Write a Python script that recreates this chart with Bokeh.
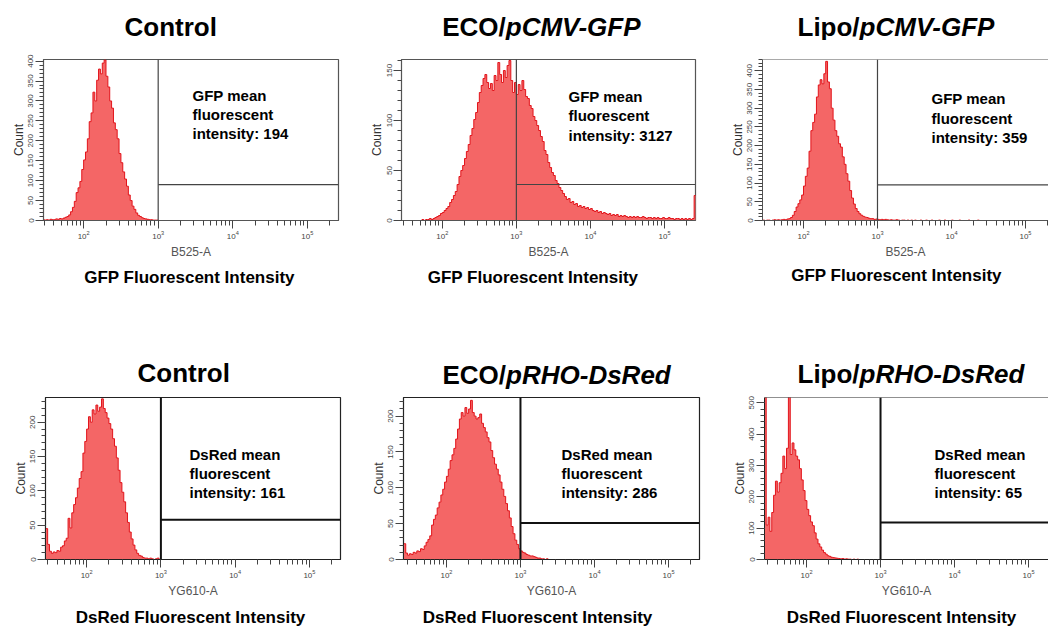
import numpy as np
from bokeh.plotting import figure
from bokeh.models import (Range1d, Span, Label, FixedTicker, SingleIntervalTicker,
                          ColumnDataSource)
from bokeh.layouts import row, column
from bokeh.embed import file_html
from bokeh.resources import INLINE

# ---------------- data ----------------
BIN_WIDTH = 0.025          # histogram bin width in log10 units
titles_plain = ["Control", "ECO/", "Lipo/", "Control", "ECO/", "Lipo/"]
titles_italic = ["", "pCMV-GFP", "pCMV-GFP", "", "pRHO-DsRed", "pRHO-DsRed"]
channels = ["B525-A", "B525-A", "B525-A", "YG610-A", "YG610-A", "YG610-A"]
xlabels = ["GFP Fluorescent Intensity"] * 3 + ["DsRed Fluorescent Intensity"] * 3
reporters = ["GFP", "GFP", "GFP", "DsRed", "DsRed", "DsRed"]
mfi_values = [194, 3127, 359, 161, 286, 65]
gate_counts = [90, 36, 95, 58, 51, 118]
gate_threshold = 1000
y_max = [404, 161, 430, 236, 226, 517]
y_tick_step = [50, 50, 50, 50, 50, 100]
bin_start = [1.45, 1.70, 1.45, 1.45, 1.425, 1.43]   # log10 of first bin edge

ctrl_gfp_counts = [2, 1, 2, 1, 3, 2, 2, 4, 3, 5, 4, 6, 8, 10, 14, 22, 33, 48, 70, 82,
                   98, 128, 152, 172, 205, 248, 270, 322, 300, 352, 380, 368, 395, 403, 362, 335, 300, 282, 245, 228,
                   205, 168, 145, 122, 104, 86, 64, 50, 36, 28, 19, 13, 10, 7, 5, 4, 3, 2, 2, 1,
                   1, 1]
eco_gfp_counts = [0, 1, 0, 1, 1, 2, 1, 2, 3, 4, 5, 7, 8, 10, 12, 14, 18, 21, 25, 29,
                  36, 44, 50, 55, 62, 69, 76, 85, 92, 101, 108, 118, 128, 135, 142, 146, 138, 132, 137, 130,
                  145, 140, 158, 146, 138, 150, 143, 155, 160, 140, 128, 138, 126, 136, 130, 140, 131, 124, 122, 115,
                  112, 104, 100, 95, 90, 84, 79, 70, 66, 58, 53, 48, 45, 40, 37, 33, 30, 27, 24, 21,
                  22, 18, 19, 16, 17, 14, 15, 13, 14, 12, 13, 11, 12, 10, 9, 10, 8, 9, 7, 8,
                  7, 6, 7, 5, 6, 5, 6, 4, 5, 4, 5, 4, 3, 4, 3, 4, 3, 4, 3, 3,
                  4, 3, 2, 3, 3, 2, 3, 2, 3, 2, 2, 3, 2, 2, 3, 2, 2, 1, 2, 2,
                  1, 2, 1, 2, 1, 2, 1, 2, 25]
lipo_gfp_counts = [1, 0, 1, 1, 0, 1, 2, 1, 2, 1, 2, 3, 2, 4, 5, 8, 14, 24, 36, 45,
                   55, 68, 92, 118, 140, 185, 240, 262, 284, 330, 362, 376, 365, 392, 425, 370, 352, 300, 268, 240,
                   225, 205, 196, 170, 150, 125, 105, 80, 60, 44, 32, 24, 18, 14, 11, 9, 8, 6, 5, 5,
                   3, 4, 3, 2, 3, 2, 3, 2, 1, 2, 1, 1, 2, 1, 0, 1, 1, 0, 1, 0,
                   1, 0, 1, 0, 0, 1, 0, 0, 1, 0, 0, 1, 0, 0, 0, 1, 0, 0, 1, 0,
                   0, 0, 1, 0, 0, 0, 1, 0, 0, 0, 0, 1, 0, 0, 0, 0, 1, 0, 0, 0]
ctrl_dsred_counts = [45, 22, 12, 9, 11, 10, 13, 12, 18, 20, 27, 31, 60, 46, 68, 80, 90, 104, 118, 128,
                     155, 172, 190, 208, 200, 218, 212, 225, 216, 222, 234, 220, 214, 206, 198, 190, 176, 165, 148, 130,
                     112, 98, 84, 68, 54, 40, 30, 21, 14, 9, 6, 5, 3, 2, 2, 1, 2, 1, 0, 1,
                     2, 0]
eco_dsred_counts = [22, 9, 6, 8, 7, 10, 9, 12, 11, 15, 14, 19, 24, 28, 33, 48, 56, 62, 72, 80,
                    90, 98, 108, 116, 126, 138, 146, 155, 168, 182, 196, 205, 200, 212, 204, 210, 222, 205, 200, 196,
                    198, 203, 190, 184, 178, 170, 164, 152, 142, 133, 126, 118, 108, 98, 88, 78, 68, 58, 46, 36,
                    27, 21, 15, 12, 10, 9, 7, 6, 5, 5, 4, 3, 2, 2, 1, 1, 0, 1]
lipo_dsred_counts = [560, 110, 135, 90, 150, 205, 250, 215, 245, 275, 330, 290, 355, 530, 335, 372, 350, 330, 318, 290,
                     254, 220, 188, 160, 140, 120, 108, 85, 65, 50, 40, 30, 22, 17, 12, 10, 7, 6, 5, 4,
                     3, 2, 3, 1, 2, 1, 1, 0, 1, 0, 1]
all_counts = [ctrl_gfp_counts, eco_gfp_counts, lipo_gfp_counts,
              ctrl_dsred_counts, eco_dsred_counts, lipo_dsred_counts]

# ---------------- layout / styling (not data) ----------------
FILL = "#f46666"
EDGE = "#e2141b"
FONT = "Liberation Sans"
PAGE_W = 1048
layout = [
    # figure size, borders, x-range (log10), MFI text position (frame relative)
    dict(w=361, h=222, bl=43, br=23, bt=19, bb=40, xlo=1.4617, xhi=5.4185,
         txl=149, tys=[125, 106, 87], open=False, row=0),
    dict(w=361, h=222, bl=40, br=27, bt=19, bb=40, xlo=1.449, xhi=5.4185,
         txl=167, tys=[124, 105, 85], open=False, row=0),
    dict(w=326, h=222, bl=40, br=0, bt=17, bb=42, xlo=1.446, xhi=5.311,
         txl=169, tys=[121.7, 102.3, 83], open=True, row=0),
    dict(w=363, h=208, bl=45, br=23, bt=5, bb=40, xlo=1.446, xhi=5.4185,
         txl=144, tys=[105, 86, 67], open=False, row=1),
    dict(w=361, h=208, bl=40, br=25, bt=4, bb=40, xlo=1.42, xhi=5.4185,
         txl=158, tys=[105, 86, 67], open=False, row=1),
    dict(w=324, h=208, bl=40, br=0, bt=5, bb=40, xlo=1.432, xhi=5.27,
         txl=170, tys=[105, 86, 67], open=True, row=1),
]
TITLE_FS = 26
PLAIN_EM = {"ECO/": 2.445, "Lipo/": 2.389}
# title (left x, middle y from strip bottom), bold x-label (center x, middle y from strip bottom)
title_pos = [(124, 14), (441.7, 14), (797, 14), (137, 20), (442, 18), (797, 19)]
xlabel_pos = [(189, 115.3), (532.5, 115.3), (896, 117), (190, 9.5), (537, 9.5), (901, 9.5)]


def add_label(p, x, y, text, size, style="bold", align="left", baseline="middle", color="#000000"):
    p.add_layout(Label(x=x, y=y, x_units="screen", y_units="screen", text=text,
                       text_font=FONT, text_font_size=f"{size}px", text_font_style=style,
                       text_align=align, text_baseline=baseline, text_color=color))


def text_strip(height):
    s = figure(width=PAGE_W, height=height, x_range=Range1d(0, PAGE_W), y_range=Range1d(0, height),
               output_backend="svg", toolbar_location=None, min_border=0,
               x_axis_location=None, y_axis_location=None, title=None,
               background_fill_color="white", border_fill_color="white")
    s.outline_line_color = None
    s.xgrid.visible = False
    s.ygrid.visible = False
    return s


def add_title(s, k):
    x, y = title_pos[k]
    add_label(s, x, y, titles_plain[k], TITLE_FS)
    if titles_italic[k]:
        off = PLAIN_EM[titles_plain[k]] * TITLE_FS
        add_label(s, x + off, y, titles_italic[k], TITLE_FS, style="bold italic")


def add_xlabel(s, k):
    x, y = xlabel_pos[k]
    add_label(s, x, y, xlabels[k], 17, align="center")


def make_panel(k):
    L = layout[k]
    counts = all_counts[k]
    frame_color = "#555555" if L["row"] == 0 else "#222222"
    gate_color = "#444444" if L["row"] == 0 else "#111111"
    gate_w = 1.2 if L["row"] == 0 else 2.0
    p = figure(width=L["w"], height=L["h"], x_axis_type="log", title=None,
               x_range=Range1d(10 ** L["xlo"], 10 ** L["xhi"]),
               y_range=Range1d(0, y_max[k]),
               output_backend="svg", toolbar_location=None,
               min_border_left=L["bl"], min_border_right=L["br"],
               min_border_top=L["bt"], min_border_bottom=L["bb"],
               background_fill_color="white", border_fill_color="white")
    p.xgrid.visible = False
    p.ygrid.visible = False
    if L["open"]:
        p.outline_line_color = None
        p.add_layout(Span(location=y_max[k], dimension="width", line_color=frame_color, line_width=1.2))
    else:
        p.outline_line_color = frame_color
        p.outline_line_width = 1.2

    # histogram (step-shaped filled area + red edge line)
    edges = bin_start[k] + BIN_WIDTH * np.arange(len(counts) + 1)
    left = 10 ** edges[:-1]
    right = 10 ** edges[1:]
    xs = np.column_stack([left, right]).ravel()
    ys = np.repeat(np.asarray(counts, dtype=float), 2)
    src = ColumnDataSource(dict(x=xs, y=ys))
    p.varea(x="x", y1=0, y2="y", source=src, fill_color=FILL)
    p.line(x="x", y="y", source=src, line_color=EDGE, line_width=1)

    # gate
    p.add_layout(Span(location=gate_threshold, dimension="height", line_color=gate_color, line_width=gate_w))
    p.segment(x0=[gate_threshold], y0=[gate_counts[k]], x1=[10 ** L["xhi"]], y1=[gate_counts[k]],
              line_color=gate_color, line_width=gate_w)

    # axes
    xa = p.xaxis[0]
    xa.ticker = FixedTicker(ticks=[1e2, 1e3, 1e4, 1e5],
                            minor_ticks=[m * 10 ** d for d in range(1, 6) for m in range(2, 10)])
    xa.major_tick_out = 8
    xa.major_tick_in = 0
    xa.minor_tick_out = 5
    xa.minor_tick_in = 0
    xa.major_label_text_font = FONT
    xa.major_label_text_font_size = "8px"
    xa.major_label_text_color = "#444444"
    xa.major_label_standoff = 2
    xa.axis_line_color = frame_color
    xa.major_tick_line_color = "#444444"
    xa.minor_tick_line_color = "#444444"
    xa.axis_label = channels[k]
    xa.axis_label_text_font = FONT
    xa.axis_label_text_font_size = "12px"
    xa.axis_label_text_font_style = "normal"
    xa.axis_label_text_color = "#555555"
    xa.axis_label_standoff = 3

    ya = p.yaxis[0]
    ya.ticker = SingleIntervalTicker(interval=y_tick_step[k], num_minor_ticks=5)
    ya.major_tick_out = 8
    ya.major_tick_in = 0
    ya.minor_tick_out = 4
    ya.minor_tick_in = 0
    ya.major_label_orientation = "vertical"
    ya.major_label_text_font = FONT
    ya.major_label_text_font_size = "8px"
    ya.major_label_text_color = "#444444"
    ya.major_label_standoff = 2
    ya.axis_label = "Count"
    ya.axis_label_text_font = FONT
    ya.axis_label_text_font_size = "12px"
    ya.axis_label_text_font_style = "normal"
    ya.axis_label_text_color = "#333333"
    ya.axis_label_standoff = 0
    ya.axis_line_color = frame_color
    ya.major_tick_line_color = "#444444"
    ya.minor_tick_line_color = "#444444"

    # MFI annotation (inside the frame)
    lines = [f"{reporters[k]} mean", "fluorescent", f"intensity: {mfi_values[k]}"]
    for t, yy in zip(lines, L["tys"]):
        add_label(p, L["txl"], yy, t, 15)
    return p


panels = [make_panel(k) for k in range(6)]

head = text_strip(40)
for k in range(3):
    add_title(head, k)
mid = text_strip(130)
for k in range(3):
    add_xlabel(mid, k)
for k in range(3, 6):
    add_title(mid, k)
foot = text_strip(26)
for k in range(3, 6):
    add_xlabel(foot, k)

page = column(head, row(*panels[:3]), mid, row(*panels[3:]), foot)
open("out.html", "w").write(file_html(page, INLINE))
